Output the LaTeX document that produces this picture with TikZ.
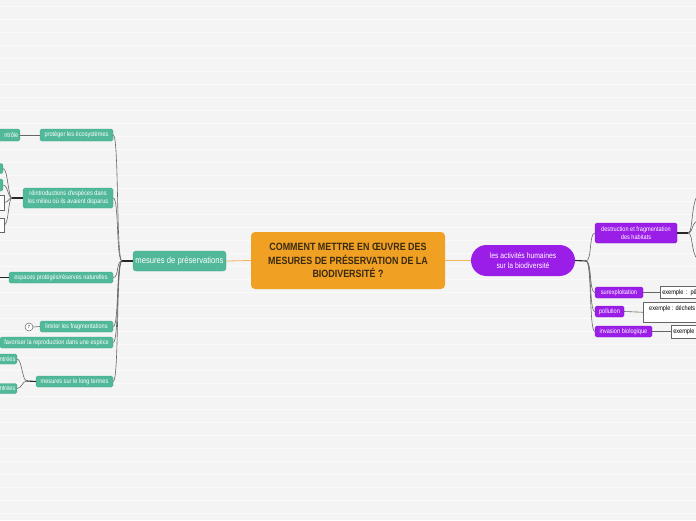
\documentclass[tikz,border=0pt]{standalone}
\usepackage{fontspec}
\newfontfamily\cond{Liberation Sans}[FakeStretch=0.85]
\definecolor{bg}{HTML}{F4F4F4}
\definecolor{stripe}{HTML}{FAFAFA}
\definecolor{tealc}{HTML}{52B89A}
\definecolor{tealb}{HTML}{3FA586}
\definecolor{purp}{HTML}{9B1EE8}
\definecolor{purpb}{HTML}{7E12C4}
\definecolor{orng}{HTML}{F0A023}
\definecolor{orngl}{HTML}{F4B25A}
\definecolor{ctext}{HTML}{3A2A12}
\definecolor{lnc}{HTML}{666666}
\tikzset{
  tealS/.style={fill=tealc, draw=tealb, line width=0.3, rounded corners=1.5, text=white,
    font=\cond\fontsize{6.6}{7.8}\selectfont, inner xsep=1.5, inner ysep=0.5, align=center},
  purpS/.style={fill=purp, draw=purpb, line width=0.3, rounded corners=1.5, text=white,
    font=\cond\fontsize{6.6}{7.8}\selectfont, inner xsep=1.5, inner ysep=0.5, align=center},
  whiteB/.style={fill=white, draw=lnc, line width=0.5, text=black,
    font=\cond\fontsize{6.6}{7.8}\selectfont, inner xsep=2, inner ysep=0.5},
  conn/.style={draw=lnc, line width=0.6},
  stemln/.style={draw=black!85, line width=1.1},
  orln/.style={draw=orngl, line width=0.8},
}
\begin{document}
\begin{tikzpicture}[x=1pt,y=-1pt]
\useasboundingbox (0,0) rectangle (696,520);
\clip (0,0) rectangle (696,520);
\fill[bg] (0,0) rectangle (696,520);
\foreach \yy in {6,19,...,520} \draw[stripe, line width=0.7] (0,\yy) -- (696,\yy);

% central
\node[fill=orng, rounded corners=4, minimum width=194, minimum height=57, align=center,
  text=ctext, font=\cond\bfseries\fontsize{10.5}{13.8}\selectfont] (c) at (348,260.5)
  {COMMENT METTRE EN ŒUVRE DES\\MESURES DE PRÉSERVATION DE LA\\BIODIVERSITÉ ?};

% main branches
\node[tealS, rounded corners=3, minimum width=93, minimum height=20,
  font=\cond\fontsize{9}{10}\selectfont] (m) at (179.5,261) {mesures de préservations};
\node[fill=purp, rounded corners=15.5, minimum width=104, minimum height=31, text=white,
  align=center, font=\cond\fontsize{8}{10}\selectfont] (h) at (523,260.5)
  {les activités humaines\\sur la biodiversité};
\draw[orln] (c.west) -- (m.east);
\draw[orln] (c.east) -- (h.west);

% left children
\node[tealS, minimum width=73, minimum height=12] (p1) at (76.5,135) {protéger les écosystèmes};
\node[tealS, minimum width=90, minimum height=20] (p2) at (68,198)
  {réintroductions d'espèces dans\\les milieu où ils avaient disparus};
\node[tealS, minimum width=104, minimum height=11] (p3) at (61,277.5) {espaces protégés/réserves naturelles};
\node[tealS, minimum width=73, minimum height=11] (p4) at (76.5,326.5) {limiter les fragmentations};
\node[tealS, minimum width=113, minimum height=11] (p5) at (56.5,342.5) {favoriser la reproduction dans une espèce};
\node[tealS, minimum width=77, minimum height=11] (p6) at (74.5,381.5) {mesures sur le long termes};

\coordinate (J) at (122,261);
\draw[stemln] (J) -- (m.west);
\foreach \n in {p1,p2,p3,p4,p5,p6}
  \draw[conn] (\n.east) .. controls +(6,0) and (116,261) .. (J);

% grand-children left
\node[tealS, anchor=east, text width=30, align=right, minimum height=12] (l1) at (20,135) {ntrôle};
\draw[conn] (l1.east) -- (p1.west);

\node[tealS, anchor=east, minimum width=30, minimum height=10] (l2a) at (3,168.5) {};
\node[tealS, anchor=east, minimum width=30, minimum height=12] (l2b) at (3,185) {};
\node[whiteB, anchor=east, minimum width=30, minimum height=15] (l2c) at (4,202.5) {};
\node[whiteB, anchor=east, minimum width=30, minimum height=14] (l2d) at (4,225) {};
\coordinate (J4) at (12,198);
\draw[stemln] (J4) -- (p2.west);
\foreach \n in {l2a,l2b,l2c,l2d}
  \draw[conn] (\n.east) .. controls +(5,0) and (8,198) .. (J4);

\coordinate (e0) at (-2,277.5);
\draw[stemln, line width=0.8] (e0) -- (p3.west);

\node[circle, draw=lnc, fill=white, line width=0.5, minimum size=8, inner sep=0,
  font=\cond\fontsize{4.5}{5}\selectfont] (k) at (29,327) {7};
\draw[conn] (k.east) -- (p4.west);

\node[tealS, anchor=east, text width=30, align=right, minimum height=10] (l6a) at (17,359) {ntrées};
\node[tealS, anchor=east, text width=30, align=right, minimum height=10] (l6b) at (17,388.5) {ntrées};
\coordinate (J5) at (27,381);
\draw[stemln] (J5) -- (p6.west);
\foreach \n in {l6a,l6b}
  \draw[conn] (\n.east) .. controls +(5,0) and (22,381) .. (J5);

% right children
\node[purpS, minimum width=82, minimum height=20] (a) at (636,233) {destruction et fragmentation\\des habitats};
\node[purpS, minimum width=48, minimum height=11] (b) at (619,292.5) {surexploitation};
\node[purpS, minimum width=29, minimum height=11] (cc) at (609.5,311.5) {pollution};
\node[purpS, minimum width=57, minimum height=11] (d) at (623.5,331.5) {invasion biologique};

\coordinate (J2) at (586,261);
\draw[stemln] (h.east) -- (J2);
\foreach \n in {a,b,cc,d}
  \draw[conn] (J2) .. controls (592,261) and (589,0|-\n.west) .. (\n.west);

\coordinate (J3) at (688,233);
\draw[stemln] (a.east) -- (J3);
\coordinate (r1) at (702,193);
\coordinate (r2) at (702,220);
\coordinate (r3) at (702,261);
\foreach \n in {r1,r2,r3}
  \draw[conn] (J3) .. controls (694,233) and (690,0|-\n) .. (\n);

\node[whiteB, anchor=west, minimum height=12, text width=56, align=left] (b2) at (660,292.5) {exemple : pêche};
\draw[conn] (b.east) -- (b2.west);
\node[whiteB, anchor=north west, minimum width=70, minimum height=20] (c2) at (643,302) {};
\node[anchor=north west, inner sep=0, font=\cond\fontsize{6.6}{7.8}\selectfont] (c2t) at (649,305) {exemple : déchets};
\draw[conn] (cc.east) -- (c2.west);
\node[whiteB, anchor=west, minimum height=13, text width=40, align=left] (d2) at (671,331.5) {exemple};
\draw[conn] (d.east) -- (d2.west);
\end{tikzpicture}
\end{document}
